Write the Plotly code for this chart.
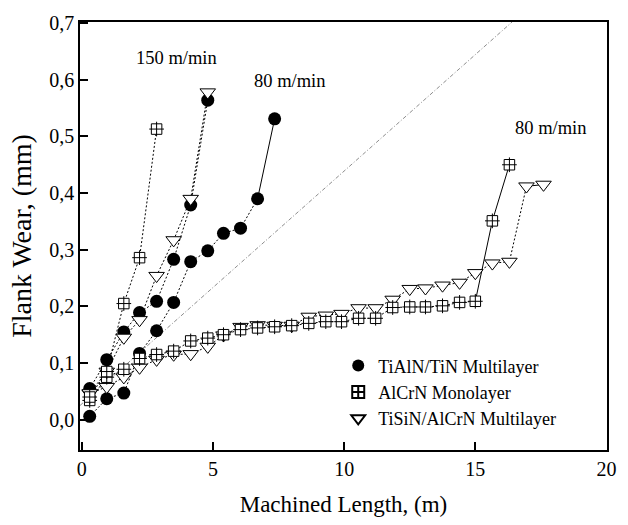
import plotly.graph_objects as go

# Machined length (m) at each measurement
x_len = [0.3, 0.95, 1.6, 2.2, 2.85, 3.5, 4.15, 4.8, 5.4, 6.05, 6.7, 7.35, 8.0, 8.65,
         9.3, 9.9, 10.55, 11.2, 11.85, 12.5, 13.1, 13.75, 14.4, 15.0, 15.65, 16.3,
         16.95, 17.6]

# 80 m/min series (flank wear, mm)
tialn_80 = [0.006, 0.037, 0.047, 0.117, 0.157, 0.207, 0.279, 0.298, 0.329, 0.338,
            0.390, 0.531]
alcrn_80 = [0.034, 0.075, 0.089, 0.108, 0.115, 0.121, 0.139, 0.144, 0.150, 0.159,
            0.162, 0.164, 0.166, 0.170, 0.173, 0.173, 0.179, 0.179, 0.198, 0.199,
            0.199, 0.201, 0.207, 0.209, 0.351, 0.450]
tisin_80 = [0.046, 0.058, 0.075, 0.092, 0.106, 0.115, 0.116, 0.129, 0.149, 0.164,
            0.167, 0.166, 0.166, 0.182, 0.184, 0.187, 0.197, 0.197, 0.212, 0.231,
            0.232, 0.237, 0.242, 0.259, 0.276, 0.279, 0.412, 0.415]

# 150 m/min series
tialn_150 = [0.055, 0.106, 0.155, 0.189, 0.209, 0.283, 0.379, 0.564]
alcrn_150 = [0.040, 0.085, 0.205, 0.286, 0.513]
tisin_150 = [0.047, 0.085, 0.145, 0.176, 0.254, 0.317, 0.390, 0.578]

# index where the final (solid) segment of each 80 m/min curve starts
solid_start = {"tialn": 10, "alcrn": 23, "tisin": 26}

# reference straight line (end points)
ref_x = [-0.07, 16.4]
ref_y = [0.025, 0.702]

y_ticks = [0.0, 0.1, 0.2, 0.3, 0.4, 0.5, 0.6, 0.7]
y_ticktext = ["0,0", "0,1", "0,2", "0,3", "0,4", "0,5", "0,6", "0,7"]
x_ticks = [0, 5, 10, 15, 20]

legend_names = ["TiAlN/TiN Multilayer", "AlCrN Monolayer", "TiSiN/AlCrN Multilayer"]

FONT = "'Liberation Serif', 'Times New Roman', Times, 'DejaVu Serif', serif"
DOT = "2px,2px"

sym = {
    "tialn": dict(symbol="circle", size=13, color="black", line=dict(width=0)),
    "tisin": dict(symbol="triangle-down", size=13.5, color="white",
                  line=dict(color="black", width=1)),
    "alcrn": dict(symbol="square", size=10.5, color="white",
                  line=dict(color="black", width=1)),
}

fig = go.Figure()

# reference line
fig.add_trace(go.Scatter(x=ref_x, y=ref_y, mode="lines",
                         line=dict(color="#808080", width=0.9, dash="4px,2px,1px,2px"),
                         showlegend=False, hoverinfo="skip"))

def add_series(x, y, solid_idx=None):
    n = len(y)
    xs = x[:n]
    if solid_idx is None:
        fig.add_trace(go.Scatter(x=xs, y=y, mode="lines",
                                 line=dict(color="black", width=1, dash=DOT),
                                 showlegend=False))
    else:
        fig.add_trace(go.Scatter(x=xs[:solid_idx + 1], y=y[:solid_idx + 1], mode="lines",
                                 line=dict(color="black", width=1, dash=DOT),
                                 showlegend=False))
        fig.add_trace(go.Scatter(x=xs[solid_idx:], y=y[solid_idx:], mode="lines",
                                 line=dict(color="black", width=1),
                                 showlegend=False))

def add_markers(key, x, y):
    n = len(y)
    fig.add_trace(go.Scatter(x=x[:n], y=y, mode="markers", marker=dict(sym[key]),
                             showlegend=False))
    if key == "alcrn":
        # cross inside square
        fig.add_trace(go.Scatter(x=x[:n], y=y, mode="markers",
                                 marker=dict(symbol="cross-thin-open", size=10.5,
                                             color="black",
                                             line=dict(color="black", width=1)),
                                 showlegend=False))

# lines
add_series(x_len, tialn_150)
add_series(x_len, alcrn_150)
add_series(x_len, tisin_150)
add_series(x_len, tialn_80, solid_start["tialn"])
add_series(x_len, alcrn_80, solid_start["alcrn"])
add_series(x_len, tisin_80, solid_start["tisin"])

# markers: circles, triangles, squares (top)
add_markers("tialn", x_len, tialn_150)
add_markers("tialn", x_len, tialn_80)
add_markers("tisin", x_len, tisin_80)
add_markers("tisin", x_len, tisin_150)
add_markers("alcrn", x_len, alcrn_80)
add_markers("alcrn", x_len, alcrn_150)

# legend entries
leg_syms = [
    dict(symbol="circle", size=13, color="black", line=dict(width=0)),
    dict(symbol="square-cross-open", size=10.5, color="black", line=dict(color="black", width=1)),
    dict(symbol="triangle-down-open", size=13.5, color="black", line=dict(color="black", width=1)),
]
for name, m in zip(legend_names, leg_syms):
    fig.add_trace(go.Scatter(x=[None], y=[None], mode="markers", marker=m, name=name))

annotations = [
    dict(x=3.6, y=0.638, text="150 m/min"),
    dict(x=7.9, y=0.598, text="80 m/min"),
    dict(x=17.85, y=0.515, text="80 m/min"),
]
for a in annotations:
    a.update(xref="x", yref="y", showarrow=False,
             font=dict(family=FONT, size=18.5, color="black"))

fig.update_layout(
    width=628, height=525,
    margin=dict(l=80, r=13, t=17, b=71),
    paper_bgcolor="white", plot_bgcolor="white",
    font=dict(family=FONT, color="black", size=20),
    annotations=annotations,
    legend=dict(x=0.49, y=0.24, xanchor="left", yanchor="top",
                bgcolor="rgba(0,0,0,0)", font=dict(family=FONT, size=18),
                tracegroupgap=0, itemsizing="constant"),
    showlegend=True,
)
fig.update_xaxes(range=[-0.07, 20.02], tickvals=x_ticks,
                 ticks="inside", ticklen=8, tickwidth=1.5, tickcolor="black",
                 showline=True, linecolor="black", linewidth=1.5, mirror=True,
                 showgrid=False, zeroline=False,
                 tickfont=dict(family=FONT, size=20),
                 title=dict(text="Machined Length, (m)", font=dict(family=FONT, size=23),
                            standoff=17))
fig.update_yaxes(range=[-0.0535, 0.702], tickvals=y_ticks, ticktext=y_ticktext,
                 ticks="inside", ticklen=8, tickwidth=1.5, tickcolor="black",
                 showline=True, linecolor="black", linewidth=1.5, mirror=True,
                 showgrid=False, zeroline=False,
                 tickfont=dict(family=FONT, size=20),
                 title=dict(text="Flank Wear, (mm)", font=dict(family=FONT, size=28),
                            standoff=9))

fig.write_html("out.html")
